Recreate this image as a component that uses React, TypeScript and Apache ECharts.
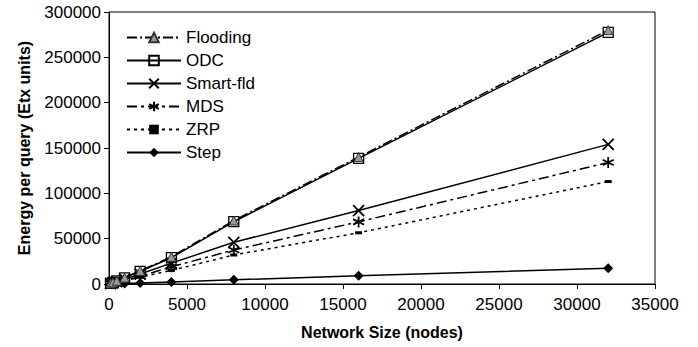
import React, { useEffect, useRef } from "react";
import * as echarts from "echarts";

const sizes = [100, 250, 500, 1000, 2000, 4000, 8000, 16000, 32000];
const flooding = [700, 1750, 3500, 7000, 14500, 30000, 70000, 140000, 280000];
const odc = [680, 1700, 3400, 6800, 14000, 29000, 68700, 138500, 277500];
const smartFld = [500, 1250, 2600, 5300, 11000, 23000, 46000, 81000, 154000];
const mds = [420, 1050, 2100, 4200, 8500, 19000, 37500, 68500, 134000];
const zrp = [350, 900, 1800, 3600, 7500, 15000, 32000, 56500, 113000];
const step = [55, 140, 280, 550, 1100, 2300, 4600, 9000, 17300];

const xTicks = { min: 0, max: 35000, interval: 5000 };
const yTicks = { min: 0, max: 300000, interval: 50000 };

const FONT = "Liberation Sans, Arial, sans-serif";

const pair = (vals: number[]) => sizes.map((x, i) => [x, vals[i]]);

export default function App() {
  const ref = useRef<HTMLDivElement>(null);
  useEffect(() => {
    if (!ref.current) return;
    const chart = echarts.init(ref.current, undefined, { renderer: "svg" });
    const base = (name: string, vals: number[], extra: any) => ({
      name,
      type: "line",
      data: pair(vals),
      showSymbol: true,
      ...extra,
    });
    chart.setOption({
      animation: false,
      backgroundColor: "#fff",
      textStyle: { fontFamily: FONT },
      grid: {
        left: 109,
        right: 43,
        top: 12,
        bottom: 63,
        show: true,
        borderColor: "#000",
        borderWidth: 1,
        backgroundColor: "transparent",
      },
      legend: {
        orient: "vertical",
        left: 121,
        top: 24,
        itemWidth: 54,
        itemHeight: 12,
        itemGap: 6,
        textStyle: { fontSize: 17, color: "#000", fontFamily: FONT },
        data: ["Flooding", "ODC", "Smart-fld", "MDS", "ZRP", "Step"],
      },
      xAxis: {
        type: "value",
        ...xTicks,
        name: "Network Size (nodes)",
        nameLocation: "middle",
        nameGap: 40,
        nameTextStyle: { fontSize: 16, fontWeight: "bold", color: "#000", fontFamily: FONT },
        axisLine: { lineStyle: { color: "#000", width: 1 } },
        axisTick: { show: true, inside: false, length: 5, lineStyle: { color: "#000" } },
        axisLabel: { fontSize: 17, color: "#000", margin: 12, fontFamily: FONT, formatter: (v: number) => String(v) },
        splitLine: { show: false },
      },
      yAxis: {
        type: "value",
        ...yTicks,
        name: "Energy per query (Etx units)",
        nameLocation: "middle",
        nameGap: 77,
        nameTextStyle: { fontSize: 16, fontWeight: "bold", color: "#000", fontFamily: FONT },
        axisLine: { show: true, lineStyle: { color: "#000", width: 1 } },
        axisTick: { show: true, inside: false, length: 5, lineStyle: { color: "#000" } },
        axisLabel: { fontSize: 17, color: "#000", margin: 8, fontFamily: FONT, formatter: (v: number) => String(v) },
        splitLine: { show: false },
      },
      series: [
        base("ODC", odc, {
          symbol: "rect",
          symbolSize: 10,
          z: 3,
          lineStyle: { color: "#000", width: 1.5, type: "solid" },
          itemStyle: { color: "rgba(255,255,255,0)", borderColor: "#000", borderWidth: 1.3 },
        }),
        base("Flooding", flooding, {
          symbol: "triangle",
          symbolSize: 9,
          z: 4,
          lineStyle: { color: "#000", width: 1.5, type: [10, 3, 2, 3] },
          itemStyle: { color: "#999", borderColor: "#333", borderWidth: 1 },
        }),
        base("Smart-fld", smartFld, {
          symbol: "path://M0,0L10,10M10,0L0,10",
          symbolSize: 11,
          lineStyle: { color: "#000", width: 1.5, type: "solid" },
          itemStyle: { color: "#000", borderColor: "#000", borderWidth: 1.8 },
        }),
        base("MDS", mds, {
          symbol: "path://M5,0L5,10M0.7,2.5L9.3,7.5M9.3,2.5L0.7,7.5",
          symbolSize: 11,
          lineStyle: { color: "#000", width: 1.5, type: [10, 4, 3, 4] },
          itemStyle: { color: "#000", borderColor: "#000", borderWidth: 1.8 },
        }),
        base("ZRP", zrp, {
          symbol: "rect",
          symbolSize: [7, 3],
          lineStyle: { color: "#000", width: 1.5, type: [3, 4] },
          itemStyle: { color: "#000", borderColor: "#000", borderWidth: 0 },
        }),
        base("Step", step, {
          symbol: "diamond",
          symbolSize: 10,
          lineStyle: { color: "#000", width: 1.5, type: "solid" },
          itemStyle: { color: "#000", borderColor: "#000", borderWidth: 0 },
        }),
      ],
    });
    return () => chart.dispose();
  }, []);
  return <div ref={ref} style={{ width: 698, height: 347, position: "absolute", left: 0, top: 0 }} />;
}
